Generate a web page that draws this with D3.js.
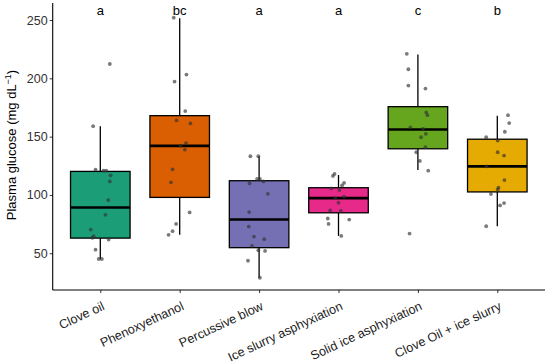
<!DOCTYPE html>
<html><head><meta charset="utf-8">
<script src="https://cdn.jsdelivr.net/npm/d3@7"></script>
<style>body{margin:0;background:#fff}svg{display:block}text{font-family:"Liberation Sans",Arial,sans-serif}</style>
</head><body><svg id="c" width="550" height="364"></svg>
<script>
const categories = ["Clove oil","Phenoxyethanol","Percussive blow","Ice slurry asphyxiation","Solid ice asphyxiation","Clove Oil + ice slurry"];
const colors = ["#1B9E77","#D95F02","#7570B3","#E7298A","#66A61E","#E6AB02"];
const letters = ["a","bc","a","a","c","b"];
const yTicks = [50,100,150,200,250];
// box statistics
const q1 = [63.0, 97.9, 54.8, 84.7, 139.6, 102.6];
const medians = [89.3, 142.1, 78.9, 97.3, 156.1, 124.5];
const q3 = [120.2, 168.0, 112.2, 106.2, 175.7, 147.8];
const whiskerLo = [44.8, 65.8, 29.0, 64.9, 121.4, 73.2];
const whiskerHi = [159.0, 251.6, 133.2, 117.1, 220.5, 167.9];
// individual observations (value) and their horizontal jitter (fraction of category step)
const obsValues = [
  [212.3,159,121.7,120.8,120.8,116.8,111.6,95.6,83,70.3,64.6,63.2,61.7,53.1,45.1,45.1],
  [252,203.2,197.2,171.9,163.9,161.3,144.4,142.1,138.9,122,110.8,85,75.2,68.9,65.8],
  [133.2,133.2,113.7,113.7,111.6,109.9,101,85.3,72.9,64.3,62.1,56.3,52.6,52,43.6,29],
  [118,116.3,110.3,108.2,105.6,104.2,98.5,97.3,93.3,86.7,86.4,79.8,78.9,75.2,64.9],
  [221,207.8,193.8,191.2,170.8,168.4,157.9,156.7,152.4,149.5,140.9,136.6,129.2,120.8,66.9],
  [168.4,161.6,154.2,149.5,146.7,136.6,133.8,124.5,112.8,106.2,104.7,100.8,93,91,73.2]
];
const obsJitter = [
  [0.12,-0.09,-0.06,0.04,0.075,0.13,0.12,0.10,0.065,-0.12,-0.085,-0.10,0.105,-0.06,-0.02,0.02],
  [-0.075,0.085,-0.065,0.07,-0.04,0.135,0.08,0.01,0.065,-0.09,-0.11,0.125,-0.045,-0.09,-0.14],
  [-0.11,-0.01,-0.025,0.01,0.055,-0.12,0.11,-0.125,-0.13,-0.065,0.065,-0.09,-0.01,0.075,-0.14,0.01],
  [-0.05,-0.07,0.07,0.045,-0.09,0.01,0.07,-0.04,0,-0.105,0.03,-0.135,0.135,-0.125,0.035],
  [-0.14,-0.12,-0.12,0.095,0.105,0.12,-0.095,0.065,0.10,0.04,0.095,-0.02,0.025,0.13,-0.105],
  [0.135,0.15,0.095,-0.14,0.005,0.005,0.085,-0.135,0.09,0.015,0.005,-0.08,0.085,0.035,-0.14]
];

const svg = d3.select("#c");
const x = d3.scalePoint().domain(categories).range([100.3, 497.3]);
const step = x.step();
const y = d3.scaleLinear().domain([18.5, 264.6]).range([290, 3]);
const xLeft = 52.7, xRight = 545;
const boxW = step * 0.75;

// axes
const gy = svg.append("g").attr("transform", `translate(${xLeft},0)`)
  .call(d3.axisLeft(y).tickValues(yTicks).tickSize(3).tickPadding(2));
gy.select(".domain").remove();
gy.selectAll(".tick line").attr("stroke","#333").attr("stroke-width",1);
gy.selectAll(".tick text").attr("fill","#333").attr("font-size","12.5px").attr("font-family","Liberation Sans, Arial, sans-serif");
svg.append("line").attr("x1",xLeft).attr("x2",xLeft).attr("y1",y.range()[1]).attr("y2",290).attr("stroke","#000").attr("stroke-width",1.1);

const gx = svg.append("g").attr("transform", `translate(0,290)`)
  .call(d3.axisBottom(x).tickSize(3).tickFormat(""));
gx.select(".domain").remove();
gx.selectAll(".tick line").attr("stroke","#333").attr("stroke-width",1);
svg.append("line").attr("x1",xLeft).attr("x2",xRight).attr("y1",290).attr("y2",290).attr("stroke","#000").attr("stroke-width",1.1);

svg.append("g").selectAll("text").data(categories).join("text")
  .attr("transform", d => `translate(${x(d)+1},${300.5}) rotate(-25)`)
  .attr("text-anchor","end").attr("dy","0.75em")
  .attr("font-size","12.6px").attr("fill","#1a1a1a").text(d => d);

const title = svg.append("text").attr("transform","translate(16,145) rotate(-90)")
  .attr("text-anchor","middle").attr("font-size","13px").attr("fill","#000");
title.append("tspan").text("Plasma glucose (mg dL");
title.append("tspan").attr("dy","-5").attr("font-size","9px").text("−1");
title.append("tspan").attr("dy","5").text(")");

// boxes
const gb = svg.append("g");
categories.forEach((c,i) => {
  const cx = x(c);
  gb.append("line").attr("x1",cx).attr("x2",cx).attr("y1",y(whiskerHi[i])).attr("y2",y(q3[i])).attr("stroke","#000").attr("stroke-width",1.3);
  gb.append("line").attr("x1",cx).attr("x2",cx).attr("y1",y(q1[i])).attr("y2",y(whiskerLo[i])).attr("stroke","#000").attr("stroke-width",1.3);
  gb.append("rect").attr("x",cx-boxW/2).attr("width",boxW).attr("y",y(q3[i])).attr("height",y(q1[i])-y(q3[i]))
    .attr("fill",colors[i]).attr("stroke","#000").attr("stroke-width",1.3);
  gb.append("line").attr("x1",cx-boxW/2).attr("x2",cx+boxW/2).attr("y1",y(medians[i])).attr("y2",y(medians[i])).attr("stroke","#000").attr("stroke-width",2.6);
});

// points
const pts = [];
obsValues.forEach((vals,i) => vals.forEach((v,j) => pts.push({c:categories[i], v, j:obsJitter[i][j]})));
svg.append("g").selectAll("circle").data(pts).join("circle")
  .attr("cx", d => x(d.c) + d.j*step).attr("cy", d => y(d.v)).attr("r",1.9)
  .attr("fill","#333").attr("fill-opacity",0.65);

// letters
svg.append("g").selectAll("text").data(categories).join("text")
  .attr("x", d => x(d)).attr("y", 15).attr("text-anchor","middle")
  .attr("font-size","13px").attr("fill","#000").text((d,i) => letters[i]);
</script></body></html>
